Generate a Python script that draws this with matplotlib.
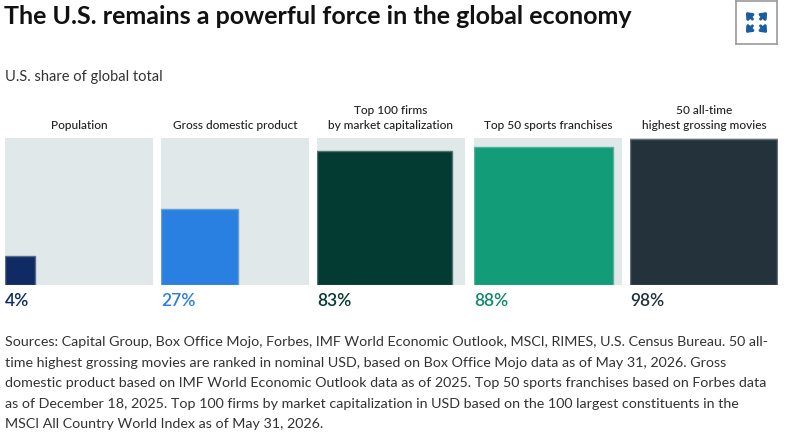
import matplotlib
matplotlib.use("Agg")
import matplotlib.pyplot as plt
from matplotlib.patches import Rectangle
import numpy as np

# ---- data ----
categories = ["Population", "Gross domestic product",
              "Top 100 firms\nby market capitalization",
              "Top 50 sports franchises",
              "50 all-time\nhighest grossing movies"]
shares = [4, 27, 83, 88, 98]
value_labels = ["4%", "27%", "83%", "88%", "98%"]
square_colors = ["#102b63", "#2a80e0", "#033a31", "#129c78", "#24323b"]
label_colors = ["#102b63", "#2a7fe0", "#033a31", "#0f8a6a", "#24323b"]

title = "The U.S. remains a powerful force in the global economy"
subtitle = "U.S. share of global total"
footnote_lines = [
    "Sources: Capital Group, Box Office Mojo, Forbes, IMF World Economic Outlook, MSCI, RIMES, U.S. Census Bureau. 50 all-",
    "time highest grossing movies are ranked in nominal USD, based on Box Office Mojo data as of May 31, 2026. Gross",
    "domestic product based on IMF World Economic Outlook data as of 2025. Top 50 sports franchises based on Forbes data",
    "as of December 18, 2025. Top 100 firms by market capitalization in USD based on the 100 largest constituents in the",
    "MSCI All Country World Index as of May 31, 2026.",
]

W, H = 791, 433
fig = plt.figure(figsize=(W / 100, H / 100), dpi=100)
fig.patch.set_facecolor("white")

FONT = "Lato"

def fx(px):
    return px / W

def fy(py):
    return 1 - py / H

# title
fig.text(fx(4), fy(17), title, fontsize=18.0, fontweight="bold", family=FONT,
         color="#111111", va="center", ha="left")
# subtitle
fig.text(fx(5), fy(77), subtitle, fontsize=10.5, family=FONT, color="#333333",
         va="center", ha="left")

# expand icon
icon_ax = fig.add_axes([fx(736), fy(44), fx(41), (43) / H])
icon_ax.set_xlim(0, 1)
icon_ax.set_ylim(0, 1)
icon_ax.set_xticks([])
icon_ax.set_yticks([])
for s in icon_ax.spines.values():
    s.set_color("#9a9a9a")
    s.set_linewidth(1.2)
arrow_kw = dict(arrowstyle="-|>,head_length=0.3,head_width=0.25", color="#1a5e9e", lw=2.2,
                shrinkA=0, shrinkB=0)
c = 0.5
for dx, dy in [(-1, 1), (1, 1), (-1, -1), (1, -1)]:
    icon_ax.annotate("", xy=(c + dx * 0.26, c + dy * 0.24), xytext=(c + dx * 0.10, c + dy * 0.08),
                     arrowprops=arrow_kw)

# panels
panel_x = [5, 161, 317, 474, 630]
panel_w = 148
panel_top, panel_bot = 138, 285
for i, (cat, v, lab, sc, lc) in enumerate(zip(categories, shares, value_labels,
                                              square_colors, label_colors)):
    x0 = panel_x[i]
    ax = fig.add_axes([fx(x0), fy(panel_bot), fx(panel_w), (panel_bot - panel_top) / H])
    ax.set_xlim(0, 1)
    ax.set_ylim(0, 1)
    ax.axis("off")
    ax.add_patch(Rectangle((0, 0), 1, 1, facecolor="#e0e8ea", edgecolor="none"))
    side = np.sqrt(v / 100)
    ax.add_patch(Rectangle((0, 0), side, side, facecolor=sc,
                           edgecolor=matplotlib.colors.to_hex(
                               0.6 * np.array(matplotlib.colors.to_rgb(sc)) + 0.4 * np.array([0.75, 0.8, 0.82])),
                           linewidth=1.0))
    # header
    fig.text(fx(x0 + panel_w / 2), fy(131), cat, fontsize=8.6, family=FONT, fontweight="medium",
             color="#222222", ha="center", va="bottom", linespacing=1.5)
    # value label
    fig.text(fx(x0), fy(301), lab, fontsize=12.5, family=FONT, fontweight="semibold",
             color=lc, ha="left", va="center")

# footnote
for j, line in enumerate(footnote_lines):
    fig.text(fx(5), fy(342 + j * 20.6), line, fontsize=10.3, family=FONT,
             color="#333333", ha="left", va="center")

fig.savefig("out.png", dpi=100, facecolor="white")
